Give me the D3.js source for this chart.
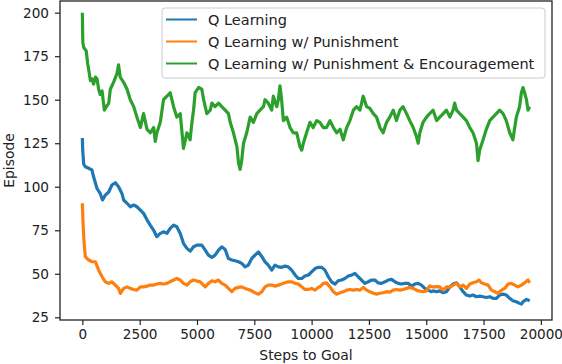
<!DOCTYPE html>
<html>
<head>
<meta charset="utf-8">
<script src="https://cdnjs.cloudflare.com/ajax/libs/d3/7.8.5/d3.min.js"></script>
<style>
    body { margin: 0; background: #fff; }
    text { font-family: "DejaVu Sans", sans-serif; }
</style>
</head>
<body>
<div id="wrapper"></div>
<script>
// [steps, episode]
const qLearning = [
    [0,128],[15,121],[60,113],[130,111.5],[280,110.6],[420,109.6],[490,105.7],[640,99],[780,96],[880,92.4],
    [1000,95.2],[1150,97],[1290,101],[1440,102.3],[1580,100],[1730,96],[1800,92.4],[1950,90.5],[2090,88.5],[2240,89.5],
    [2380,88.5],[2530,86.6],[2670,84.7],[2820,81],[2960,78],[3110,75],[3250,71.3],[3400,73.2],[3540,74.1],[3690,73.2],
    [3830,76.1],[3980,78],[4120,77],[4270,73.2],[4410,67.5],[4560,64.6],[4700,63],[4850,65.5],[5000,66.5],[5210,66.5],
    [5360,63.6],[5500,60.7],[5650,59.4],[5790,60.7],[5940,63.6],[6080,65.5],[6230,64],[6370,58.8],[6520,57.9],[6660,57.5],
    [6810,56.9],[6950,56],[7100,54],[7240,55],[7390,58.8],[7530,60.7],[7680,62.6],[7830,59.8],[7970,56.9],[8110,55],
    [8260,52.1],[8400,55],[8550,54],[8690,53.7],[8840,54.4],[8980,54],[9130,52.1],[9280,49.3],[9420,47.3],[9570,47.3],
    [9710,48.7],[9860,49.3],[10000,51.1],[10150,53],[10290,53.7],[10440,53.7],[10580,52.1],[10730,48.3],[10870,45.4],[11020,44.1],
    [11160,46],[11310,46.4],[11450,47.3],[11600,48.7],[11750,49.3],[11890,50.2],[12030,48.3],[12180,46.4],[12320,44.5],[12470,45.4],
    [12620,46.4],[12760,46.4],[12900,44.8],[13050,44.5],[13200,45.4],[13340,46.4],[13490,46.8],[13630,45.4],[13780,44.5],[13920,44.1],
    [14070,44.5],[14210,44.5],[14360,42.9],[14500,44.1],[14650,44.5],[14790,43.5],[14940,41.6],[15080,40.6],[15230,39.7],[15300,40.2],
    [15450,39.7],[15590,40.2],[15740,39.1],[15880,39.7],[16030,42.5],[16170,44.1],[16320,44.8],[16460,42.5],[16610,39.7],[16750,37.8],
    [16900,37.2],[17040,37.8],[17190,36.8],[17330,37.2],[17480,36.8],[17620,36.4],[17770,36.8],[17910,35.9],[18060,35.9],[18200,37.8],
    [18350,38.3],[18490,37.8],[18640,35.9],[18780,34.5],[18930,33.9],[19070,33],[19150,32.6],[19220,33.9],[19370,35.3],[19510,34.5]
]

const qPunishment = [
    [0,90.5],[30,79],[60,71.3],[90,65.5],[130,59.8],[280,57.9],[420,56.9],[570,56.9],[710,52.1],[860,48.3],
    [1000,45.4],[1150,44.5],[1290,45.4],[1440,43.5],[1580,41.6],[1660,38.7],[1800,41.6],[1950,42.5],[2090,41.6],[2240,41],
    [2380,40.6],[2530,42.5],[2670,42.5],[2820,42.9],[2960,43.5],[3110,43.5],[3250,44.1],[3400,44.5],[3540,44.1],[3690,44.5],
    [3830,45.4],[3980,46.4],[4120,47.3],[4270,46.4],[4410,44.5],[4560,43.5],[4700,45.4],[4850,46.4],[5000,45.8],[5140,45.4],
    [5360,42.5],[5500,44.5],[5650,46],[5790,45.4],[5940,46.4],[6080,44.5],[6230,43.5],[6370,41.6],[6520,39.7],[6660,41.6],
    [6810,42.2],[6950,42.5],[7100,41.6],[7240,41],[7390,40.2],[7530,39.1],[7680,38.3],[7830,39.7],[7970,42.5],[8110,43.5],
    [8260,43.5],[8400,42.9],[8550,43.5],[8690,44.1],[8840,44.8],[8980,45.4],[9130,45.4],[9280,44.5],[9420,44.1],[9570,42.5],
    [9710,41],[9860,41],[10000,41.6],[10150,40.6],[10290,42.2],[10360,42.5],[10510,44.5],[10650,44.8],[10800,42.5],[10950,39.7],
    [11090,38.3],[11240,39.1],[11380,39.7],[11530,40.6],[11670,41],[11820,40.6],[11960,41],[12110,40.6],[12250,42.2],[12400,40.6],
    [12540,39.7],[12690,38.8],[12830,38.3],[12980,38.8],[13120,39.1],[13270,39.7],[13410,39.5],[13560,40.6],[13700,41],[13850,40.6],
    [13990,41],[14140,41.6],[14280,42.2],[14430,41.6],[14570,40.6],[14720,40],[14860,39.7],[15010,40.2],[15150,43],[15300,42.4],
    [15450,42.6],[15590,42.5],[15740,40.6],[15880,42.5],[16030,42.2],[16170,43.5],[16320,44.5],[16460,42.5],[16610,43.5],[16750,41.6],
    [16900,44.1],[17040,44.8],[17190,45.4],[17300,46.4],[17400,44.8],[17550,44.1],[17700,43.5],[17840,40.6],[17990,39.7],[18130,38.8],
    [18280,40.6],[18420,41.6],[18570,44.1],[18710,44.5],[18860,43.5],[19000,42.5],[19150,43.5],[19290,44.8],[19440,46.4],[19510,44.8]
]

const qPunishEncourage = [
    [0,200],[20,183],[60,180],[170,178],[230,171],[280,167],[350,161],[420,162],[490,159],[570,163],
    [640,162],[710,156],[780,153],[860,155],[960,144],[1050,146],[1150,148],[1220,156],[1360,160],[1510,165],
    [1580,170],[1650,163],[1800,160],[1950,156],[2090,150],[2240,146],[2380,140],[2530,134],[2670,142],[2820,133],
    [2960,131],[3110,134],[3180,126],[3250,131],[3400,137],[3540,150],[3690,152],[3830,154],[3980,146],[4120,140],
    [4270,142],[4410,122],[4560,131],[4700,127],[4780,137],[4850,144],[4920,154],[5070,157],[5210,156],[5290,150],
    [5430,142],[5580,144],[5650,148],[5790,146],[5940,148],[6080,146],[6230,144],[6370,142],[6450,137],[6590,131],
    [6740,123],[6810,114],[6880,110],[6950,115],[7030,125],[7170,131],[7320,140],[7460,137],[7610,142],[7750,144],
    [7900,146],[7970,150],[8110,148],[8260,144],[8330,152],[8480,146],[8550,150],[8620,158],[8690,150],[8770,138],
    [8910,140],[9060,134],[9200,131],[9350,131],[9490,123],[9570,121],[9640,125],[9780,131],[9930,137],[10070,134],
    [10220,138],[10360,137],[10510,134],[10650,134],[10800,138],[10950,134],[11090,131],[11240,133],[11380,127],[11530,134],
    [11670,138],[11820,144],[11960,146],[12110,144],[12250,152],[12400,146],[12540,145],[12690,142],[12830,140],[12980,134],
    [13120,131],[13270,137],[13410,140],[13560,144],[13700,138],[13850,144],[13990,146],[14140,142],[14280,138],[14430,134],
    [14570,129],[14650,125],[14720,131],[14860,137],[15010,140],[15150,142],[15300,144],[15450,138],[15590,140],[15740,142],
    [15880,144],[16030,140],[16170,144],[16240,148],[16320,144],[16460,142],[16610,140],[16750,138],[16900,134],[17040,131],
    [17190,125],[17260,115],[17330,121],[17480,127],[17620,133],[17770,138],[17910,140],[18060,142],[18200,144],[18350,142],
    [18490,138],[18640,131],[18780,127],[18860,134],[18930,140],[19070,146],[19150,154],[19220,157],[19290,154],[19370,150],
    [19440,144],[19510,146]
]

const seriesNames = ["Q Learning", "Q Learning w/ Punishment", "Q Learning w/ Punishment & Encouragement"]
const seriesColors = ["#1f77b4", "#ff7f0e", "#2ca02c"]
const xTicks = [0, 2500, 5000, 7500, 10000, 12500, 15000, 17500, 20000]
const yTicks = [25, 50, 75, 100, 125, 150, 175, 200]

function drawChart() {
    let dimensions = {
        width: 562,
        height: 364,
        margin: { top: 1, right: 10, bottom: 44, left: 60 },
    }
    dimensions.boundedWidth = dimensions.width - dimensions.margin.left - dimensions.margin.right
    dimensions.boundedHeight = dimensions.height - dimensions.margin.top - dimensions.margin.bottom

    const wrapper = d3.select("#wrapper")
        .append("svg")
        .attr("width", dimensions.width)
        .attr("height", dimensions.height)

    const bounds = wrapper.append("g")
        .attr("transform", `translate(${dimensions.margin.left},${dimensions.margin.top})`)

    const xScaler = d3.scaleLinear()
        .domain([-975, 20485])
        .range([0, dimensions.boundedWidth])

    const yScaler = d3.scaleLinear()
        .domain([23.45, 206.7])
        .range([dimensions.boundedHeight, 0])

    const lineGen = d3.line()
        .x(d => xScaler(d[0]))
        .y(d => yScaler(d[1]))

    const allSeries = [qLearning, qPunishment, qPunishEncourage]

    bounds.append("g")
        .selectAll("path")
        .data(allSeries)
        .join("path")
        .attr("d", lineGen)
        .attr("fill", "none")
        .attr("stroke", (d, i) => seriesColors[i])
        .attr("stroke-width", 3.2)
        .attr("stroke-linejoin", "round")

    // axes
    const xAxisGen = d3.axisBottom(xScaler)
        .tickValues(xTicks)
        .tickFormat(d3.format("d"))
        .tickSize(5)
        .tickPadding(4)
    const xAxis = bounds.append("g")
        .attr("transform", `translate(0,${dimensions.boundedHeight})`)
        .call(xAxisGen)

    const yAxisGen = d3.axisLeft(yScaler)
        .tickValues(yTicks)
        .tickSize(5)
        .tickPadding(6)
    const yAxis = bounds.append("g")
        .call(yAxisGen)

    for (const ax of [xAxis, yAxis]) {
        ax.select(".domain").remove()
        ax.selectAll(".tick line").attr("stroke", "#222").attr("stroke-width", 1.2)
        ax.selectAll(".tick text")
            .attr("fill", "#222")
            .style("font-size", "13.6px")
            .style("font-family", "DejaVu Sans")
    }

    // frame
    bounds.append("rect")
        .attr("width", dimensions.boundedWidth)
        .attr("height", dimensions.boundedHeight)
        .attr("fill", "none")
        .attr("stroke", "#222")
        .attr("stroke-width", 1.3)

    // labels
    wrapper.append("text")
        .attr("x", dimensions.margin.left + dimensions.boundedWidth / 2)
        .attr("y", 360)
        .attr("text-anchor", "middle")
        .attr("fill", "#222")
        .style("font-size", "13.9px")
        .text("Steps to Goal")

    wrapper.append("text")
        .attr("transform", `translate(14,${dimensions.margin.top + dimensions.boundedHeight / 2}) rotate(-90)`)
        .attr("text-anchor", "middle")
        .attr("fill", "#222")
        .style("font-size", "13.9px")
        .text("Episode")

    // legend
    const legend = wrapper.append("g")
        .attr("transform", "translate(162,8)")
    legend.append("rect")
        .attr("width", 383)
        .attr("height", 70)
        .attr("rx", 3)
        .attr("fill", "#fff")
        .attr("fill-opacity", 0.8)
        .attr("stroke", "#ccc")
        .attr("stroke-width", 1)

    const items = legend.selectAll(".item")
        .data(seriesNames)
        .join("g")
        .attr("class", "item")
        .attr("transform", (d, i) => `translate(0,${11.5 + i * 22})`)
    items.append("line")
        .attr("x1", 4)
        .attr("x2", 35)
        .attr("stroke", (d, i) => seriesColors[i])
        .attr("stroke-width", 2)
    items.append("text")
        .attr("x", 46)
        .attr("y", 5)
        .attr("fill", "#222")
        .style("font-size", "14.5px")
        .text(d => d)
}

drawChart()
</script>
</body>
</html>
